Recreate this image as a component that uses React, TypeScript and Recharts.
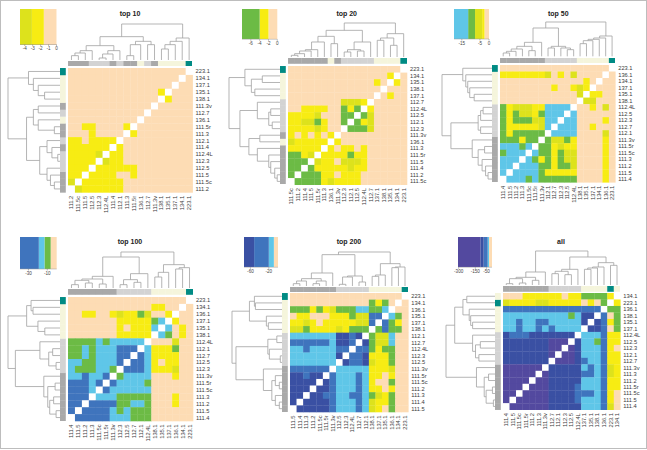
import React from 'react';
import { ScatterChart, Scatter, XAxis, YAxis, BarChart, Bar } from 'recharts';

// level colours used by all heatmaps, w = diagonal
const LEVEL_COLORS: Record<string, string> = {
  '0': '#fddcb4',
  '1': '#f7ec13',
  '2': '#dde21c',
  '3': '#6cbb45',
  '4': '#5fc6e8',
  '5': '#3f74bd',
  '6': '#3a50a3',
  '7': '#53499f',
  w: '#ffffff',
};
const GROUP_COLORS: Record<string, string> = {
  '111': '#a9a9a9',
  '112': '#d3d3d3',
  '13': '#f5f5dc',
  '223': '#008b84',
};
const FONT = '"Liberation Sans", Arial, sans-serif';
const LINE_GRAY = '#a2a2a2';

type Tree = 0 | [number, Tree, Tree];

// top 10
const labels10 = ['111.2', '111.5c', '111.5', '112.5', '112.3', '112.4L', '111.4', '112.1', '111.3', '111.5r', '136.1', '112.7', '111.3v', '138.1', '135.1', '137.1', '134.1', '223.1'];
const rows10 = [
  '00000000000000000w',
  '0000000000000000w0',
  '000000000000000w00',
  '00000000000001w000',
  '0000000000000w1000',
  '000000000000w00000',
  '00000000000w000000',
  '0000000000w0000000',
  '001100001w00000000',
  '00010000w100000000',
  '1101111w0000000000',
  '111111w10000000000',
  '11112w110000000000',
  '1111w2110000000000',
  '111w11111100000000',
  '11w111100100000000',
  '2w1111110000000000',
  'w21111110000000000',
];
const tree10: Tree = [108, [70, [43, [28, [21, [13, 0, 0], 0], 0], [28, [18, [6, 0, 0], 0], 0]], [56, [46, [13, 0, 0], 0], [46, 0, 0]]], [66, [56, [46, [33, 0, 0], 0], 0], 0]];
const keyLevels10 = ['0', '1', '2'];
const keyBands10 = [-1.6, -1.5, -1.5];
const keyTicks10 = [-4, -3, -2, -1, 0];

// top 20
const labels20 = ['111.5c', '111.2', '111.4', '111.5', '111.5r', '111.3', '136.1', '111.3v', '112.3', '112.1', '112.5', '112.4L', '112.7', '137.1', '138.1', '135.1', '134.1', '223.1'];
const rows20 = [
  '00000000000000000w',
  '0000000000000001w0',
  '000000000000010w10',
  '00000000000000w000',
  '0000000000000w0100',
  '000000002221w00000',
  '00111100313w100000',
  '1111200033w3200000',
  '112231003w31200000',
  '11112100w333200000',
  '1010101w0000000000',
  '211111w10000000000',
  '11111w101101000000',
  '3312w1111311000000',
  '333w21102221000000',
  '33w311111211000000',
  '3w3331101110000000',
  'w33331211110000000',
];
const tree20: Tree = [104, [82, [64, [47, [24, [20, [12, [7, 0, 0], 0], 0], 0], 0], [42, 0, 0]], [47, [24, [17, 0, 0], [20, 0, 0]], 0]], [72, [59, [52, 0, 0], [37, 0, 0]], 0]];
const keyLevels20 = ['0', '1', '3'];
const keyBands20 = [-2, -2, -4];
const keyTicks20 = [-6, -4, -2, 0];

// top 50
const labels50 = ['111.4', '111.5', '111.2', '111.3', '111.5c', '111.5r', '111.3v', '112.1', '112.7', '112.3', '112.5', '112.4L', '138.1', '135.1', '137.1', '134.1', '136.1', '223.1'];
const rows50 = [
  '00000000000000000w',
  '1111111201020000w0',
  '000000000000010w00',
  '00000000100121w000',
  '0000000000002w1100',
  '000000000000w22000',
  '31222114444w001020',
  '3132213444w4000000',
  '313332244w44000010',
  '31111124w444001000',
  '3133333w4444000020',
  '333133w32231000010',
  '44434w331211000010',
  '3444w4331322000010',
  '444w43131322000010',
  '44w444331332000010',
  '4w4444311111000010',
  'w44434333333000010',
];
const tree50: Tree = [103, [85, [42, [30, [22, [15, [10, 0, 0], 0], 0], [17, 0, 0]], 0], [30, [25, 0, 0], [25, 0, [20, 0, 0]]]], [61, [55, [51, [47, [38, 0, 0], 0], 0], 0], 0]];
const keyLevels50 = ['0', '1', '2', '3', '4'];
const keyBands50 = [-2.5, -1.3, -3.9, -3.8, -7.8];
const keyTicks50 = [-15, -5, 0];

// top 100
const labels100 = ['111.4', '111.5', '111.2', '111.3', '111.5c', '111.5r', '111.3v', '112.3', '112.5', '112.7', '112.1', '112.4L', '138.1', '135.1', '137.1', '136.1', '134.1', '223.1'];
const rows100 = [
  '00000000000000000w',
  '00000000000011' + '00w0',
  '001100121132001w00',
  '00000001111134w100',
  '0000000101114w4010',
  '000000011111w43010',
  '33334344444w000200',
  '3343444555w4111300',
  '334344455w54111100',
  '44334445w554101100',
  '4333443w5554111200',
  '445445w34444000100',
  '55545w544443000000',
  '5554w5444444000000',
  '555w44433333000100',
  '55w555533443000100',
  '5w5555434333000000',
  'w55555444333000000',
];
const tree100: Tree = [108, [93, [35, [27, [23, [10, 0, 0], [15, 0, 0]], [12, 0, 0]], 0], [43, [25, [10, 0, 0], [17, 0, 0]], 0]], [70, [47, [33, 0, 0], 0], [61, [57, 0, 0], 0]]];
const keyLevels100 = ['0', '3', '4', '5'];
const keyBands100 = [-6.4, -6.6, -6, -20];
const keyTicks100 = [-30, -10];

// top 200
const labels200 = ['111.5', '111.4', '111.3', '111.2', '111.5c', '111.5r', '111.3v', '112.5', '112.3', '112.4L', '112.7', '112.1', '138.1', '137.1', '135.1', '136.1', '134.1', '223.1'];
const rows200 = [
  '00000000000000000w',
  '0000000000003130w0',
  '333131233344334w00',
  '01100011132255w430',
  '1121011111225w5310',
  '223111121333w35330',
  '44444446656w322400',
  '5555554665w6322400',
  '445444455w55313300',
  '44444446w556111300',
  '4444444w6556211300',
  '555555w44444111200',
  '66566w544454110100',
  '6666w6544454100300',
  '666w66544454110100',
  '66w665544554321300',
  '6w6666544454211300',
  'w66666544454210300',
];
const tree200: Tree = [103, [95, [40, [23, [16, [8, 0, 0], 0], [16, [8, 0, 0], 0]], 0], [31, [28, [6, 0, 0], 0], [13, 0, 0]]], [68, [34, [30, 0, 0], 0], [58, [56, 0, 0], 0]]];
const keyLevels200 = ['0', '4', '5', '6'];
const keyBands200 = [-9, -11, -32, -22];
const keyTicks200 = [-60, -20];

// all
const labelsAll = ['111.4', '111.5', '111.5c', '111.5r', '111.2', '111.3', '111.3v', '112.7', '112.1', '112.3', '112.5', '112.4L', '137.1', '135.1', '138.1', '136.1', '223.1', '134.1'];
const rowsAll = [
  '00011111101133331w',
  '2111122111110103w1',
  '555555555555555w33',
  '44444444443466w503',
  '4454455444446w6513',
  '445445454444w66503',
  '65556666666w444511',
  '6666666777w6443511',
  '666666677w76444510',
  '66666667w776444511',
  '6666666w7776544511',
  '777777w66666454521',
  '77777w766666554521',
  '7777w7766666444511',
  '777w77766665444511',
  '77w777766665554510',
  '7w7777766665444510',
  'w77777766666444520',
];
const treeAll: Tree = [104, [41, [25, [21, [6, 0, 0], [8, 0, 0]], [16, 0, 0]], 0], [86, [49, [43, [36, 0, 0], [33, 0, 0]], 0], [69, [56, [53, [49, 0, 0], 0], 0], [61, 0, 0]]]];
const keyLevelsAll = ['0', '4', '5', '6', '7'];
const keyBandsAll = [-27, -12, -36, -30, -201];
const keyTicksAll = [-300, -150, -50];

type PanelLayout = {
  title: string;
  titleX: number;
  titleY: number;
  heat: [number, number, number, number];
  topBarY: number;
  leftBarX: number;
  dendroBase: number;
  dendroLeft: [number, number];
  key: [number, number, number, number];
  labels: string[];
  rows: string[];
  tree: Tree;
  keyLevels: string[];
  keyBands: number[];
  keyTicks: number[];
};

const panels: PanelLayout[] = [
  { title: 'top 10', titleX: 130, titleY: 14, heat: [67.7, 68.3, 124.6, 124.4], topBarY: 60.5, leftBarX: 60, dendroBase: 59.5, dendroLeft: [7, 52.7], key: [20, 8.5, 36.5, 35.5], labels: labels10, rows: rows10, tree: tree10, keyLevels: keyLevels10, keyBands: keyBands10, keyTicks: keyTicks10 },
  { title: 'top 20', titleX: 346.7, titleY: 13.7, heat: [287.7, 65.7, 119, 118.7], topBarY: 58.3, leftBarX: 280, dendroBase: 57.4, dendroLeft: [228.3, 51.7], key: [242, 9, 35.3, 30.3], labels: labels20, rows: rows20, tree: tree20, keyLevels: keyLevels20, keyBands: keyBands20, keyTicks: keyTicks20 },
  { title: 'top 50', titleX: 558.3, titleY: 13.7, heat: [499.7, 65, 115.3, 117.3], topBarY: 57.7, leftBarX: 492.3, dendroBase: 56.8, dendroLeft: [441.3, 51], key: [454.3, 9, 35, 30], labels: labels50, rows: rows50, tree: tree50, keyLevels: keyLevels50, keyBands: keyBands50, keyTicks: keyTicks50 },
  { title: 'top 100', titleX: 130, titleY: 242.3, heat: [67.7, 296.7, 125, 124], topBarY: 289, leftBarX: 60, dendroBase: 288.4, dendroLeft: [7, 53], key: [20, 237, 36.7, 32], labels: labels100, rows: rows100, tree: tree100, keyLevels: keyLevels100, keyBands: keyBands100, keyTicks: keyTicks100 },
  { title: 'top 200', titleX: 349, titleY: 241.7, heat: [290, 293.3, 118.3, 119], topBarY: 286.7, leftBarX: 282.3, dendroBase: 286, dendroLeft: [231, 51.3], key: [244.3, 237, 34, 30.3], labels: labels200, rows: rows200, tree: tree200, keyLevels: keyLevels200, keyBands: keyBands200, keyTicks: keyTicks200 },
  { title: 'all', titleX: 561, titleY: 241.7, heat: [502.7, 293.3, 117.3, 116.7], topBarY: 286, leftBarX: 495.3, dendroBase: 285.5, dendroLeft: [445, 50.3], key: [457.7, 237, 34, 30.3], labels: labelsAll, rows: rowsAll, tree: treeAll, keyLevels: keyLevelsAll, keyBands: keyBandsAll, keyTicks: keyTicksAll },
];

const CELL_COUNT = 18;
const cellTicks = Array.from({ length: CELL_COUNT }, (_, i) => i + 0.5);

function groupColor(label: string) {
  const key = Object.keys(GROUP_COLORS).find((prefix) => label.startsWith(prefix));
  return key ? GROUP_COLORS[key] : '#ffffff';
}

function box(left: number, top: number): React.CSSProperties {
  return { position: 'absolute', left, top };
}

// one chart holding the coloured squares plus the two label axes
function Heatmap({ panel }: { panel: PanelLayout }) {
  const [left, top, w, h] = panel.heat;
  const cw = w / CELL_COUNT;
  const ch = h / CELL_COUNT;
  const rowLabels = [...panel.labels].reverse();
  const cells = panel.rows.flatMap((row, r) =>
    row.split('').map((level, c) => ({ col: c + 0.5, row: r + 0.5, level }))
  );
  const xTick = (p: any) => (
    <text
      x={p.x}
      y={p.y}
      transform={`rotate(-90 ${p.x} ${p.y})`}
      dy={2}
      textAnchor="end"
      fontSize={5.7}
      fontFamily={FONT}
      fill="#3a3a3a"
    >
      {panel.labels[Math.floor(p.payload.value)]}
    </text>
  );
  const yTick = (p: any) => (
    <text x={p.x} y={p.y} dy={2} fontSize={5.7} fontFamily={FONT} fill="#3a3a3a">
      {rowLabels[Math.floor(p.payload.value)]}
    </text>
  );
  return (
    <div style={box(left, top)}>
      <ScatterChart width={w + 26} height={h + 26} margin={{ top: 0, right: 0, bottom: 0, left: 0 }}>
        <XAxis type="number" dataKey="col" domain={[0, CELL_COUNT]} ticks={cellTicks} interval={0} height={26} tick={xTick} tickLine={false} tickSize={0} axisLine={false} tickMargin={3.5} />
        <YAxis type="number" dataKey="row" domain={[0, CELL_COUNT]} ticks={cellTicks} interval={0} width={26} reversed orientation="right" tick={yTick} tickLine={false} tickSize={0} axisLine={false} tickMargin={3} />
        <Scatter
          data={cells}
          isAnimationActive={false}
          shape={(p: any) => (
            <rect x={p.cx - cw / 2} y={p.cy - ch / 2} width={cw + 0.3} height={ch + 0.3} fill={LEVEL_COLORS[p.payload.level]} />
          )}
        />
      </ScatterChart>
    </div>
  );
}

// side ribbon coloured by the label group
function Ribbon({ panel, vertical }: { panel: PanelLayout; vertical: boolean }) {
  const [left, top, w, h] = panel.heat;
  const thick = 5.8;
  const width = vertical ? thick : w;
  const height = vertical ? h : thick;
  const size = (vertical ? h : w) / CELL_COUNT;
  const cells = panel.labels.map((label, i) => ({ pos: i + 0.5, side: 0.5, color: groupColor(label) }));
  return (
    <div style={box(vertical ? panel.leftBarX : left, vertical ? top : panel.topBarY)}>
      <ScatterChart width={width} height={height} margin={{ top: 0, right: 0, bottom: 0, left: 0 }}>
        <XAxis type="number" dataKey={vertical ? 'side' : 'pos'} domain={vertical ? [0, 1] : [0, CELL_COUNT]} hide />
        <YAxis type="number" dataKey={vertical ? 'pos' : 'side'} domain={vertical ? [0, CELL_COUNT] : [0, 1]} hide />
        <Scatter
          data={cells}
          isAnimationActive={false}
          shape={(p: any) =>
            vertical ? (
              <rect x={0} y={p.cy - size / 2} width={thick} height={size + 0.3} fill={p.payload.color} />
            ) : (
              <rect x={p.cx - size / 2} y={0} width={size + 0.3} height={thick} fill={p.payload.color} />
            )
          }
        />
      </ScatterChart>
    </div>
  );
}

// walks the merge tree: every merge becomes a 4 point polyline
function treeSegments(tree: Tree) {
  const segs: { pos: number; h: number }[][] = [];
  let leaf = 0;
  const walk = (node: Tree): { pos: number; h: number } => {
    if (node === 0) {
      leaf += 1;
      return { pos: leaf - 0.5, h: 0 };
    }
    const a = walk(node[1]);
    const b = walk(node[2]);
    segs.push([a, { pos: a.pos, h: node[0] }, { pos: b.pos, h: node[0] }, b]);
    return { pos: (a.pos + b.pos) / 2, h: node[0] };
  };
  walk(tree);
  return segs;
}

function Dendrogram({ panel, vertical }: { panel: PanelLayout; vertical: boolean }) {
  const [left, top, w, h] = panel.heat;
  const segs = treeSegments(panel.tree);
  const maxH = (panel.tree as [number, Tree, Tree])[0];
  const pad = 1;
  const topHeight = maxH / 3;
  const width = vertical ? panel.dendroLeft[1] : w;
  const height = vertical ? h : topHeight + pad;
  const style = vertical ? box(panel.dendroLeft[0], top) : box(left, panel.dendroBase - topHeight - pad);
  const margin = vertical ? { top: 0, right: 0, bottom: 0, left: pad } : { top: pad, right: 0, bottom: 0, left: 0 };
  return (
    <div style={style}>
      <ScatterChart width={width + (vertical ? pad : 0)} height={height} margin={margin}>
        <XAxis type="number" dataKey={vertical ? 'h' : 'pos'} domain={vertical ? [0, maxH] : [0, CELL_COUNT]} reversed={vertical} hide />
        <YAxis type="number" dataKey={vertical ? 'pos' : 'h'} domain={vertical ? [0, CELL_COUNT] : [0, maxH]} hide />
        {segs.map((seg, i) => (
          <Scatter
            key={i}
            data={seg}
            isAnimationActive={false}
            line={{ stroke: LINE_GRAY, strokeWidth: 0.8 }}
            shape={() => <g />}
          />
        ))}
      </ScatterChart>
    </div>
  );
}

function ColorKey({ panel }: { panel: PanelLayout }) {
  const [left, top, w, h] = panel.key;
  const row: Record<string, number | string> = { name: 'key' };
  panel.keyBands.forEach((v, i) => {
    row[`band${i}`] = v;
  });
  const min = panel.keyBands.reduce((a, b) => a + b, 0);
  const side = 6;
  return (
    <div style={box(left - side, top)}>
      <BarChart
        width={w + side * 2}
        height={h + 10}
        layout="vertical"
        data={[row]}
        barCategoryGap={0}
        margin={{ top: 0, right: side, bottom: 0, left: side }}
      >
        <XAxis
          type="number"
          domain={[min, 0]}
          ticks={panel.keyTicks}
          interval={0}
          height={10}
          tick={{ fontSize: 4.6, fontFamily: FONT, fill: '#444' }}
          tickSize={1.5}
          tickMargin={1}
          tickLine={{ stroke: '#777', strokeWidth: 0.5 }}
          axisLine={{ stroke: '#999', strokeWidth: 0.5 }}
        />
        <YAxis type="category" dataKey="name" hide />
        {panel.keyBands.map((_, i) => (
          <Bar key={i} dataKey={`band${i}`} stackId="key" fill={LEVEL_COLORS[panel.keyLevels[i]]} isAnimationActive={false} />
        ))}
      </BarChart>
    </div>
  );
}

function Panel({ panel }: { panel: PanelLayout }) {
  return (
    <>
      <div
        style={{
          position: 'absolute',
          left: panel.titleX - 40,
          top: panel.titleY - 5,
          width: 80,
          textAlign: 'center',
          fontFamily: FONT,
          fontWeight: 'bold',
          fontSize: 7,
          lineHeight: '10px',
          color: '#222',
        }}
      >
        {panel.title}
      </div>
      <ColorKey panel={panel} />
      <Dendrogram panel={panel} vertical={false} />
      <Dendrogram panel={panel} vertical />
      <Ribbon panel={panel} vertical={false} />
      <Ribbon panel={panel} vertical />
      <Heatmap panel={panel} />
    </>
  );
}

export default function App() {
  return (
    <div style={{ position: 'absolute', left: 0, top: 0, width: 647, height: 450, background: '#fff', overflow: 'hidden' }}>
      <div style={{ position: 'absolute', left: 0, top: 0, width: 645, height: 447, border: '1px solid #bdbdbd' }} />
      {panels.map((panel) => (
        <Panel key={panel.title} panel={panel} />
      ))}
    </div>
  );
}
